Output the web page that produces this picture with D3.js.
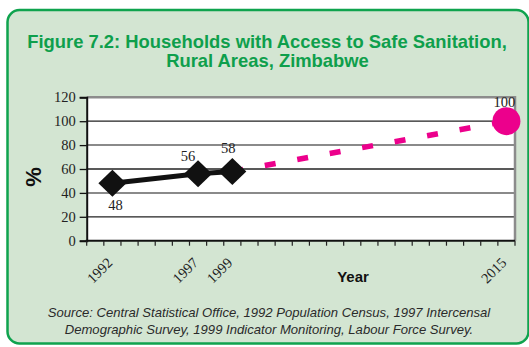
<!DOCTYPE html>
<html><head><meta charset="utf-8">
<script src="https://cdn.jsdelivr.net/npm/d3@7"></script>
<style>html,body{margin:0;padding:0;background:#fff;overflow:hidden}svg{display:block}</style>
</head><body>
<script>
const categories = ["1991","1992","1993","1994","1995","1996","1997","1998","1999","2000","2001","2002","2003","2004","2005","2006","2007","2008","2009","2010","2011","2012","2013","2014","2015"];
const tickLabels = ["1992","1997","1999","2015"];
const actualYears = ["1992","1997","1999"];
const actualValues = [48, 56, 58];
const targetYears = ["1999","2015"];
const targetValues = [58, 100];
const yTicks = [0, 20, 40, 60, 80, 100, 120];

const W = 529, H = 347;
const svg = d3.select("body").append("svg").attr("width", W).attr("height", H);

// panel
svg.append("rect").attr("x", 7.5).attr("y", 10).attr("width", 521).attr("height", 333.5)
  .attr("rx", 12).attr("fill", "#D3E5D2").attr("stroke", "#0FA34E").attr("stroke-width", 2.5);

// title
const title = svg.append("text").attr("text-anchor", "middle")
  .attr("font-family", "Liberation Sans, Arial, sans-serif").attr("font-weight", "bold")
  .attr("font-size", 18.4).attr("fill", "#0E9F4C");
title.append("tspan").attr("x", 267).attr("y", 48).text("Figure 7.2: Households with Access to Safe Sanitation,");
title.append("tspan").attr("x", 267.5).attr("y", 67).text("Rural Areas, Zimbabwe");

const L = 86.7, R = 515, T = 97.3, B = 240.7;
const x = d3.scaleBand().domain(categories).range([L, R]).padding(0);
const y = d3.scaleLinear().domain([0, 120]).range([B, T]);
const cx = d => x(d) + x.bandwidth() / 2;

// plot background
svg.append("rect").attr("x", L).attr("y", T).attr("width", R - L).attr("height", B - T).attr("fill", "#fff");

// gridlines
svg.append("g").selectAll("line").data(yTicks.filter(v => v > 0 && v < 120)).join("line")
  .attr("x1", L).attr("x2", R).attr("y1", d => y(d)).attr("y2", d => y(d))
  .attr("stroke", d => (d % 40 === 0) ? "#8a8a8a" : "#222")
  .attr("stroke-width", d => (d % 40 === 0) ? 2 : 1.3);

// top & right border
svg.append("path").attr("d", `M${L},${T}H${R}V${B}`).attr("fill", "none")
  .attr("stroke", "#8c8c8c").attr("stroke-width", 2.5);

// y axis
const yAxis = d3.axisLeft(y).tickValues(yTicks).tickSize(7).tickPadding(4);
const gy = svg.append("g").attr("transform", `translate(${L},0)`).call(yAxis);
gy.select(".domain").attr("stroke", "#111").attr("stroke-width", 2);
gy.selectAll(".tick line").attr("stroke", "#111").attr("stroke-width", 1.3);
gy.selectAll("text").attr("font-family", "Liberation Serif, Times New Roman, serif")
  .attr("font-size", 14.5).attr("fill", "#222");

// x axis: ticks at band boundaries
const gx = svg.append("g");
gx.append("line").attr("x1", L - 1).attr("x2", R).attr("y1", B).attr("y2", B)
  .attr("stroke", "#111").attr("stroke-width", 2);
gx.selectAll(".bt").data(categories.concat(["end"])).join("line")
  .attr("x1", (d, i) => i < categories.length ? x(d) : R)
  .attr("x2", (d, i) => i < categories.length ? x(d) : R)
  .attr("y1", B).attr("y2", B + 5).attr("stroke", "#222").attr("stroke-width", 1.2);
gx.selectAll(".xl").data(tickLabels).join("text")
  .attr("text-anchor", "end")
  .attr("transform", d => `translate(${cx(d) + 1},${B + 23}) rotate(-45)`)
  .attr("font-family", "Liberation Serif, Times New Roman, serif")
  .attr("font-size", 14.5).attr("fill", "#222").text(d => d);

// axis titles
svg.append("text").attr("transform", "translate(41,177) rotate(-90)").attr("text-anchor", "middle")
  .attr("font-family", "Liberation Sans, Arial, sans-serif").attr("font-weight", "bold")
  .attr("font-size", 22).attr("fill", "#111").text("%");
svg.append("text").attr("x", 353).attr("y", 282).attr("text-anchor", "middle")
  .attr("font-family", "Liberation Sans, Arial, sans-serif").attr("font-weight", "bold")
  .attr("font-size", 15).attr("fill", "#111").text("Year");

// target dashed line
const tgt = targetYears.map((d, i) => [cx(d), y(targetValues[i])]);
svg.append("path").attr("d", d3.line()(tgt)).attr("fill", "none")
  .attr("stroke", "#EC008C").attr("stroke-width", 5.5).attr("stroke-dasharray", "11,22");

// actual line
const act = actualYears.map((d, i) => [cx(d), y(actualValues[i])]);
svg.append("path").attr("d", d3.line()(act)).attr("fill", "none")
  .attr("stroke", "#111").attr("stroke-width", 5);
svg.selectAll(".dia").data(act).join("path")
  .attr("transform", d => `translate(${d[0]},${d[1]})`)
  .attr("d", "M0,-13.5L14,0L0,13.5L-14,0Z").attr("fill", "#111");

// target marker
svg.append("circle").attr("cx", cx("2015")).attr("cy", y(100)).attr("r", 14).attr("fill", "#EC008C");

// data labels
const lblFont = "Liberation Serif, Times New Roman, serif";
const lblOff = [[3, 27], [-10, -13], [-4, -18]];
svg.selectAll(".dl").data(act).join("text").attr("text-anchor", "middle")
  .attr("x", (d, i) => d[0] + lblOff[i][0]).attr("y", (d, i) => d[1] + lblOff[i][1])
  .attr("font-family", lblFont).attr("font-size", 14.5).attr("fill", "#222")
  .text((d, i) => actualValues[i]);
svg.append("text").attr("text-anchor", "middle").attr("x", cx("2015") - 2).attr("y", y(100) - 14)
  .attr("font-family", lblFont).attr("font-size", 14.5).attr("fill", "#222").text(targetValues[1]);

// source
const src = svg.append("text").attr("text-anchor", "middle")
  .attr("font-family", "Liberation Sans, Arial, sans-serif").attr("font-style", "italic")
  .attr("font-size", 13.1).attr("fill", "#2a2a2a");
src.append("tspan").attr("x", 269).attr("y", 317).text("Source: Central Statistical Office, 1992 Population Census, 1997 Intercensal");
src.append("tspan").attr("x", 269).attr("y", 334).text("Demographic Survey, 1999 Indicator Monitoring, Labour Force Survey.");
</script>
</body></html>
